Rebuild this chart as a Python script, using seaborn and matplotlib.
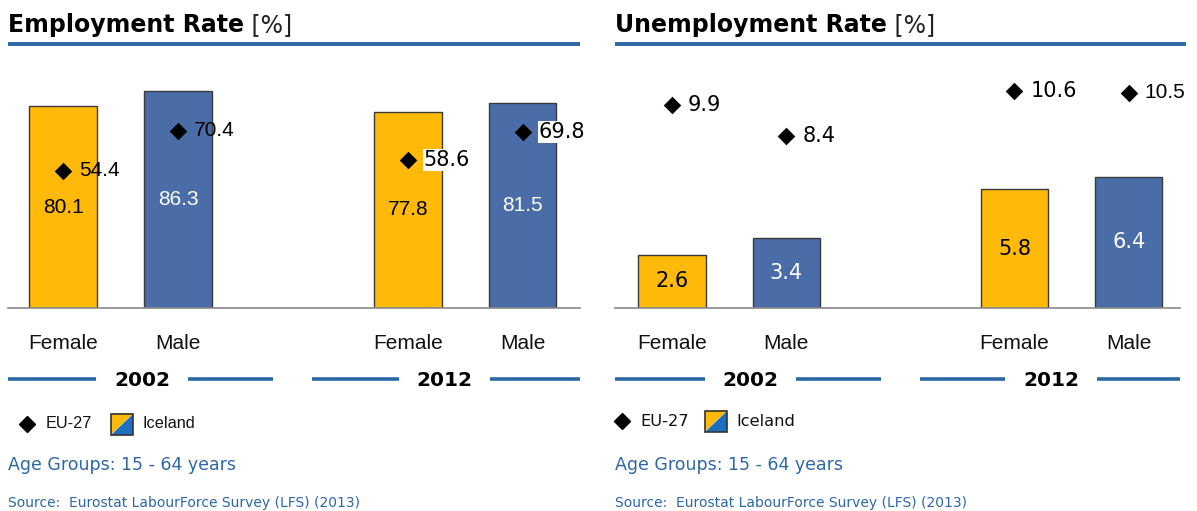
import matplotlib
matplotlib.use("Agg")
import matplotlib.pyplot as plt
from matplotlib.lines import Line2D
from matplotlib.patches import Polygon, Rectangle
from matplotlib.text import Annotation
import matplotlib.transforms as mtransforms
import pandas as pd
import seaborn as sns

# ---- data -------------------------------------------------------------
years = ["2002", "2012"]
sexes = ["Female", "Male"]

employment_iceland = [80.1, 86.3, 77.8, 81.5]
employment_eu27 = [54.4, 70.4, 58.6, 69.8]

unemployment_iceland = [2.6, 3.4, 5.8, 6.4]
unemployment_eu27 = [9.9, 8.4, 10.6, 10.5]

# ---- style ------------------------------------------------------------
sns.set_theme(style="white")
plt.rcParams["font.family"] = ["DejaVu Sans"]

YELLOW = "#FFB909"
BLUE = "#4A6DA7"
LINE_BLUE = "#2D68A6"
TEXT_BLUE = "#2E67A6"
ARIAL = "Liberation Sans"
VERDANA = "DejaVu Sans"

W, H = 1197, 511
fig = plt.figure(figsize=(W / 100, H / 100), dpi=100)


def fx(px):
    return px / W


def fy(py):
    return 1 - py / H


# slots on the category axis: two sexes per year with an empty slot between
slot_order = [f"{years[0]} {sexes[0]}", f"{years[0]} {sexes[1]}", "",
              f"{years[1]} {sexes[0]}", f"{years[1]} {sexes[1]}"]
slot_pos = [0, 1, 3, 4]


def make_frame(iceland, eu):
    rows = []
    i = 0
    for y in years:
        for s in sexes:
            rows.append({"year": y, "sex": s, "slot": f"{y} {s}",
                         "iceland": iceland[i], "eu27": eu[i]})
            i += 1
    return pd.DataFrame(rows)


def draw_panel(ax, df, xlim, ymax, bar_fonts, eu_fonts, eu_boxed):
    sns.barplot(data=df, x="slot", y="iceland", hue="sex", order=slot_order,
                hue_order=sexes, palette={"Female": YELLOW, "Male": BLUE},
                dodge=False, width=0.59, edgecolor="#3a3a3a", linewidth=1.0,
                saturation=1, legend=False, ax=ax)
    ax.set_xlim(*xlim)
    ax.set_ylim(0, ymax)
    ax.set_xlabel("")
    ax.set_ylabel("")
    ax.set_yticks([])
    ax.set_xticks([])
    for side in ("top", "left", "right"):
        ax.spines[side].set_visible(False)
    ax.spines["bottom"].set_color("#8a8a8a")
    ax.spines["bottom"].set_linewidth(1.2)

    # EU-27 reference markers
    sns.scatterplot(x=slot_pos, y=df["eu27"].to_list(), marker="D", s=80,
                    color="black", edgecolor="black", linewidth=0,
                    ax=ax, zorder=5, legend=False)

    for k, (p, row) in enumerate(zip(slot_pos, df.itertuples())):
        # value inside bar
        ax.text(p, row.iceland / 2, f"{row.iceland:.1f}", ha="center",
                va="center", fontsize=15, family=bar_fonts[k],
                color="black" if row.sex == "Female" else "white", zorder=6)
        # EU-27 value to the right of the diamond
        box = dict(boxstyle="square,pad=0.05", fc="white", ec="none") \
            if eu_boxed[k] else None
        ax.annotate(f"{row.eu27:.1f}", xy=(p, row.eu27),
                    xytext=(16, 0), textcoords="offset pixels",
                    ha="left", va="center", fontsize=15,
                    family=eu_fonts[k], color="black", bbox=box, zorder=6)
        # category label under the baseline
        ax.annotate(row.sex, xy=(p, 0), xycoords=("data", "axes fraction"),
                    xytext=(0, -41), textcoords="offset pixels",
                    ha="center", va="baseline", fontsize=15, family=ARIAL,
                    color="#111111", annotation_clip=False)

    # year group lines with the year centred on them
    trans = mtransforms.blended_transform_factory(ax.transData, ax.transAxes)
    off = mtransforms.offset_copy(trans, fig=fig, x=0, y=-71, units="dots")
    groups = [(xlim[0], 1.83, 0.69, years[0]), (2.17, xlim[1], 3.32, years[1])]
    for x0, x1, xc, label in groups:
        for a, b in ((x0, xc - 0.40), (xc + 0.40, x1)):
            ax.add_line(Line2D([a, b], [0, 0], transform=off, color=LINE_BLUE,
                               linewidth=2.6, clip_on=False,
                               solid_capstyle="butt"))
        ax.annotate(label, xy=(xc, 0), xycoords=("data", "axes fraction"),
                    xytext=(0, -78), textcoords="offset pixels", ha="center",
                    va="baseline", fontsize=14.5, fontweight="bold",
                    family=VERDANA, color="black", annotation_clip=False)


def draw_header(x0, x1, title):
    t = fig.text(fx(x0), fy(32), title, fontsize=17, fontweight="bold",
                 family=VERDANA, color="black", ha="left", va="baseline")
    fig.add_artist(Annotation(
        " [%]", xy=(1, 0), xycoords=t, xytext=(0, 0),
        textcoords="offset pixels", fontsize=17, family=VERDANA,
        color="#222222", ha="left", va="bottom"))
    fig.add_artist(Line2D([fx(x0), fx(x1)], [fy(44), fy(44)],
                          transform=fig.transFigure, color=LINE_BLUE,
                          linewidth=2.8, solid_capstyle="butt"))


def draw_footer(x0, legend_y, dia_x, eu_x, patch_x, ice_x, legend_font):
    fig.add_artist(Line2D([fx(dia_x)], [fy(legend_y)], marker="D",
                          markersize=8, color="black", linestyle="none",
                          transform=fig.transFigure))
    fig.text(fx(eu_x), fy(legend_y), "EU-27", fontsize=11.7,
             family=legend_font, color="#111111", ha="left", va="center")
    pw, ph = 22, 21
    px0, py0 = patch_x, legend_y - ph / 2
    tri1 = Polygon([(fx(px0), fy(py0)), (fx(px0 + pw), fy(py0)),
                    (fx(px0), fy(py0 + ph))], closed=True,
                   transform=fig.transFigure, fc=YELLOW, ec="none")
    tri2 = Polygon([(fx(px0 + pw), fy(py0)), (fx(px0 + pw), fy(py0 + ph)),
                    (fx(px0), fy(py0 + ph))], closed=True,
                   transform=fig.transFigure, fc="#1F6FC1", ec="none")
    frame = Rectangle((fx(px0), fy(py0 + ph)), fx(pw), ph / H,
                      transform=fig.transFigure, fc="none", ec="#333333",
                      linewidth=1.2)
    for a in (tri1, tri2, frame):
        fig.add_artist(a)
    fig.text(fx(ice_x), fy(legend_y), "Iceland", fontsize=11.7,
             family=legend_font, color="#111111", ha="left", va="center")
    fig.text(fx(x0), fy(465), "Age Groups: 15 - 64 years", fontsize=12.5,
             family=VERDANA, color=TEXT_BLUE, ha="left", va="center")
    fig.text(fx(x0), fy(503), "Source:  Eurostat LabourForce Survey (LFS) (2013)",
             fontsize=10, family=VERDANA, color=TEXT_BLUE, ha="left",
             va="center")


# ---- employment panel -------------------------------------------------
ax1 = fig.add_axes([fx(8), fy(308), fx(572), 252 / H])
draw_panel(ax1, make_frame(employment_iceland, employment_eu27),
           (-0.48, 4.5), 100,
           bar_fonts=[ARIAL] * 4,
           eu_fonts=[ARIAL, ARIAL, VERDANA, VERDANA],
           eu_boxed=[False, False, True, True])
draw_header(8, 580, "Employment Rate")
draw_footer(8, 424, 27, 46, 111, 143, ARIAL)

# ---- unemployment panel -----------------------------------------------
ax2 = fig.add_axes([fx(615), fy(308), fx(565), 246 / H])
draw_panel(ax2, make_frame(unemployment_iceland, unemployment_eu27),
           (-0.5, 4.45), 12,
           bar_fonts=[VERDANA] * 4,
           eu_fonts=[VERDANA, VERDANA, VERDANA, ARIAL],
           eu_boxed=[False] * 4)
draw_header(615, 1186, "Unemployment Rate")
draw_footer(615, 421, 622, 640, 705, 736, VERDANA)

fig.savefig("out.png", dpi=100)
